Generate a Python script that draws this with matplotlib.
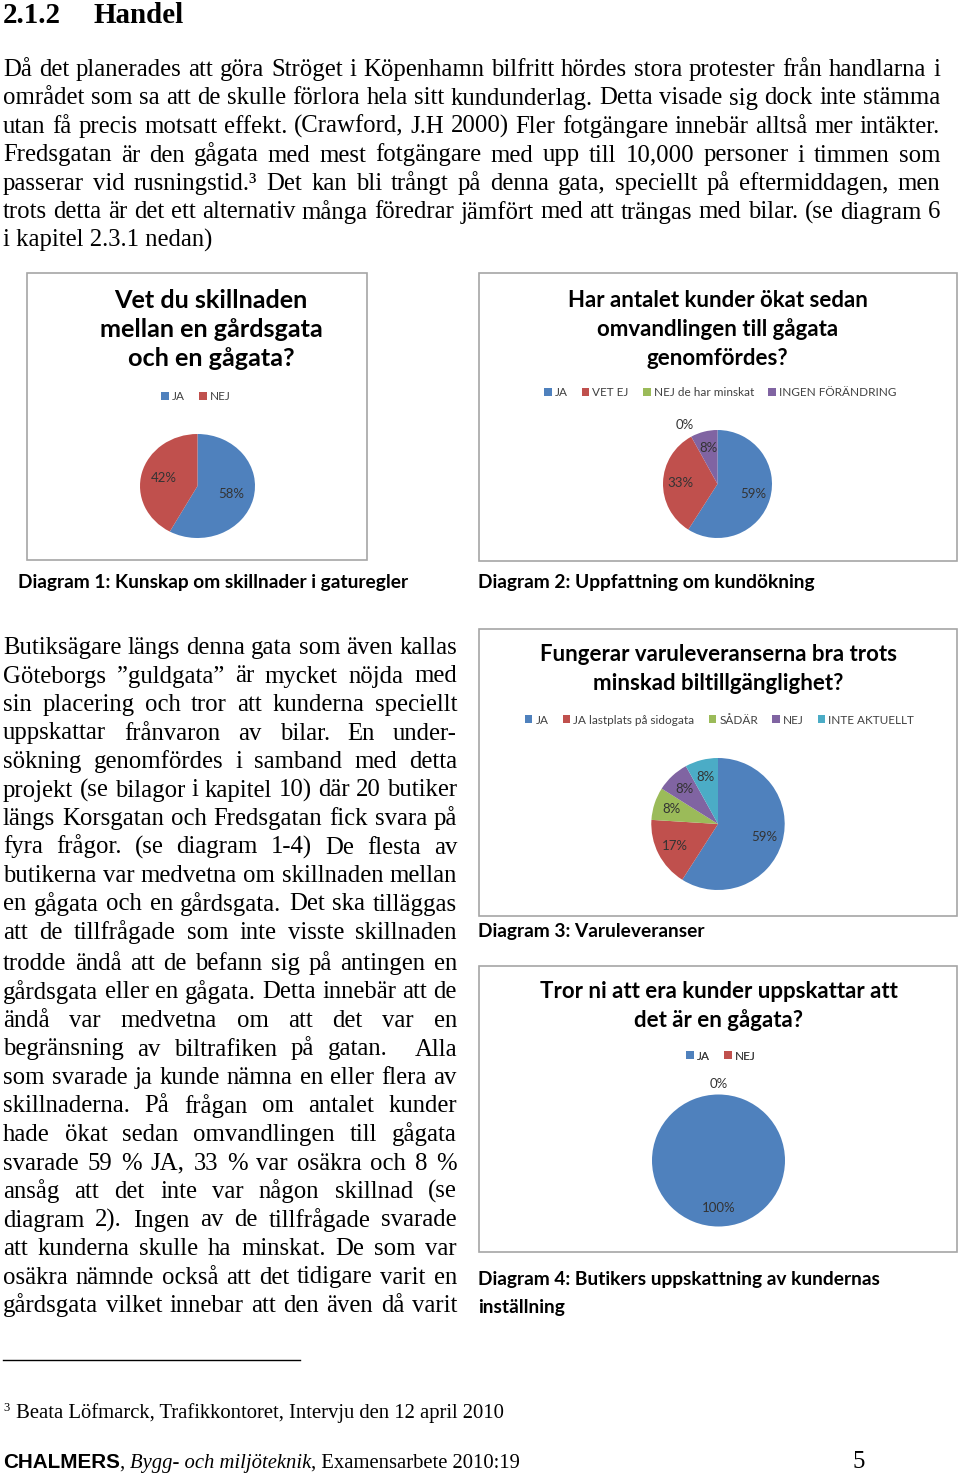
"""Sida 5 ur examensarbetet: text om Handel samt fyra cirkeldiagram från enkäten"""

import numpy as np
import matplotlib
matplotlib.use("Agg")
import matplotlib.pyplot as plt
from matplotlib.patches import Rectangle

W, H = 960, 1476

"""---data: diagram---"""
pie1_title = ["Vet du skillnaden", "mellan en gårdsgata", "och en gågata?"]
pie1_labels = ["JA", "NEJ"]
pie1_values = [58, 42]

pie2_title = ["Har antalet kunder ökat sedan", "omvandlingen till gågata", "genomfördes?"]
pie2_labels = ["JA", "VET EJ", "NEJ de har minskat", "INGEN FÖRÄNDRING"]
pie2_values = [59, 33, 0, 8]

pie3_title = ["Fungerar varuleveranserna bra trots", "minskad biltillgänglighet?"]
pie3_labels = ["JA", "JA lastplats på sidogata", "SÅDÄR", "NEJ", "INTE AKTUELLT"]
pie3_values = [59, 17, 8, 8, 8]

pie4_title = ["Tror ni att era kunder uppskattar att", "det är en gågata?"]
pie4_labels = ["JA", "NEJ"]
pie4_values = [100, 0]

excel_colors = ["#4F81BD", "#C0504D", "#9BBB59", "#8064A2", "#4BACC6"]

"""---data: text---"""
heading_num = "2.1.2"
heading_txt = "Handel"

para1 = [
    "Då det planerades att göra Ströget i Köpenhamn bilfritt hördes stora protester från handlarna i",
    "området som sa att de skulle förlora hela sitt kundunderlag. Detta visade sig dock inte stämma",
    "utan få precis motsatt effekt. (Crawford, J.H 2000) Fler fotgängare innebär alltså mer intäkter.",
    "Fredsgatan är den gågata med mest fotgängare med upp till 10,000 personer i timmen som",
    "passerar vid rusningstid.³ Det kan bli trångt på denna gata, speciellt på eftermiddagen, men",
    "trots detta är det ett alternativ många föredrar jämfört med att trängas med bilar. (se diagram 6",
    "i kapitel 2.3.1 nedan)",
]

para2 = [
    "Butiksägare längs denna gata som även kallas",
    "Göteborgs ”guldgata” är mycket nöjda med",
    "sin placering och tror att kunderna speciellt",
    "uppskattar frånvaron av bilar. En under-",
    "sökning genomfördes i samband med detta",
    "projekt (se bilagor i kapitel 10) där 20 butiker",
    "längs Korsgatan och Fredsgatan fick svara på",
    "fyra frågor. (se diagram 1-4) De flesta av",
    "butikerna var medvetna om skillnaden mellan",
    "en gågata och en gårdsgata. Det ska tilläggas",
    "att de tillfrågade som inte visste skillnaden",
    "trodde ändå att de befann sig på antingen en",
    "gårdsgata eller en gågata. Detta innebär att de",
    "ändå var medvetna om att det var en",
    "begränsning av biltrafiken på gatan.  Alla",
    "som svarade ja kunde nämna en eller flera av",
    "skillnaderna. På frågan om antalet kunder",
    "hade ökat sedan omvandlingen till gågata",
    "svarade 59 % JA, 33 % var osäkra och 8 %",
    "ansåg att det inte var någon skillnad (se",
    "diagram 2). Ingen av de tillfrågade svarade",
    "att kunderna skulle ha minskat. De som var",
    "osäkra nämnde också att det tidigare varit en",
    "gårdsgata vilket innebar att den även då varit",
]

captions = [
    "Diagram 1: Kunskap om skillnader i gaturegler",
    "Diagram 2: Uppfattning om kundökning",
    "Diagram 3: Varuleveranser",
    "Diagram 4: Butikers uppskattning av kundernas",
    "inställning",
]

footnote = "Beata Löfmarck, Trafikkontoret, Intervju den 12 april 2010"

SERIF = "Liberation Serif"
SANS = "Lato"
BODY = 17.8
CAP = 13.8


fig = plt.figure(figsize=(W / 100, H / 100), dpi=100)
page = fig.add_axes([0, 0, 1, 1])
page.set_xlim(0, W)
page.set_ylim(H, 0)
page.axis("off")
renderer = fig.canvas.get_renderer()


def width_of(t):
    if t.get_text() == "":
        return 0.0
    return t.get_window_extent(renderer).width


def put_line(x0, x1, y, line, justify=True, **kw):
    """1 rad text, justerad mellan x0 och x1"""
    if not justify:
        return page.text(x0, y, line, ha="left", va="baseline", **kw)
    words = line.split(" ")
    items = [page.text(x0, y, w, ha="left", va="baseline", **kw) for w in words]
    widths = [width_of(t) for t in items]
    gap = (x1 - x0 - sum(widths)) / (len(words) - 1)
    x = x0
    for t, w in zip(items, widths):
        t.set_x(x)
        x += w + gap


def put_run(x, y, parts):
    """text med blandade typsnitt efter varandra"""
    for s, kw in parts:
        t = page.text(x, y, s, ha="left", va="baseline", **kw)
        x += width_of(t)


def chart_box(x0, y0, x1, y1):
    page.add_patch(Rectangle((x0, y0), x1 - x0, y1 - y0, fill=False,
                             edgecolor="#a6a6a6", linewidth=1.2))


def draw_pie(cx, cy, rx, ry, values, pct_r, zero_r):
    ax = fig.add_axes([(cx - rx) / W, 1 - (cy + ry) / H, 2 * rx / W, 2 * ry / H])
    wedges, _ = ax.pie(values, colors=excel_colors[:len(values)], startangle=90,
                       counterclock=False, wedgeprops=dict(linewidth=0))
    ax.set_aspect("auto")
    ax.set_xlim(-1, 1)
    ax.set_ylim(-1, 1)
    ax.axis("off")
    for w, v in zip(wedges, values):
        ang = np.deg2rad((w.theta1 + w.theta2) / 2)
        r = pct_r if v > 0 else zero_r
        ax.text(r * np.cos(ang), r * np.sin(ang), f"{v}%", ha="center", va="center",
                fontsize=9.5, color="#333333", family=SANS)
    return wedges


def chart_title(cx, y, lines, size=16):
    for i, s in enumerate(lines):
        page.text(cx, y + i * 29, s, ha="center", va="baseline", fontsize=size,
                  fontweight="bold", family=SANS, color="black")


def chart_legend(cx, cy, wedges, labels):
    leg = page.legend(wedges, labels, loc="center", bbox_to_anchor=(cx, cy),
                      bbox_transform=page.transData, ncol=len(labels), frameon=False,
                      handlelength=0.65, handleheight=0.65, handletextpad=0.25,
                      columnspacing=1.2, borderpad=0, prop=dict(family=SANS, size=8.5),
                      labelcolor="#404040")
    page.add_artist(leg)


"""---rubrik och första stycket---"""
page.text(3, 23, heading_num, ha="left", va="baseline", fontsize=20.9,
          fontweight="bold", family=SERIF)
page.text(93, 23, heading_txt, ha="left", va="baseline", fontsize=20.9,
          fontweight="bold", family=SERIF)

for i, line in enumerate(para1):
    put_line(3, 940, 76 + i * 28.5, line, justify=i < len(para1) - 1,
             fontsize=BODY, family=SERIF)

"""---diagram 1 och 2---"""
chart_box(27, 273, 367, 560)
chart_title(211, 308, pie1_title, size=18.2)
w1 = draw_pie(197.5, 486, 57.5, 52, pie1_values, 0.6, 1.2)
chart_legend(196, 397, w1, pie1_labels)

chart_box(479, 273, 957, 561)
chart_title(717.5, 307, pie2_title)
w2 = draw_pie(717.5, 484, 54.5, 54, pie2_values, 0.68, 1.24)
chart_legend(720, 393, w2, pie2_labels)

page.text(18, 588, captions[0], ha="left", va="baseline", fontsize=CAP,
          fontweight="bold", family=SANS)
page.text(478, 588, captions[1], ha="left", va="baseline", fontsize=CAP,
          fontweight="bold", family=SANS)

"""---andra stycket (vänster spalt)---"""
for i, line in enumerate(para2):
    y = 654 + i * 28.5 + (2.5 if i > 10 else 0)
    put_line(3, 457, y, line, fontsize=BODY, family=SERIF)

"""---diagram 3 och 4---"""
chart_box(479, 629, 957, 916)
chart_title(718, 661, pie3_title)
w3 = draw_pie(718, 824, 66.7, 66, pie3_values, 0.73, 1.2)
chart_legend(719.5, 720, w3, pie3_labels)
page.text(478, 937, captions[2], ha="left", va="baseline", fontsize=CAP,
          fontweight="bold", family=SANS)

chart_box(479, 966, 957, 1252)
chart_title(718.5, 998, pie4_title)
w4 = draw_pie(718.5, 1160.5, 66.5, 66, pie4_values, 0.72, 1.16)
chart_legend(721, 1056, w4, pie4_labels)
page.text(478, 1285, captions[3], ha="left", va="baseline", fontsize=CAP,
          fontweight="bold", family=SANS)
page.text(478, 1313, captions[4], ha="left", va="baseline", fontsize=CAP,
          fontweight="bold", family=SANS)

"""---fotnot och sidfot---"""
page.plot([3, 300], [1360, 1360], color="black", linewidth=1)
page.text(3, 1411, "3", ha="left", va="baseline", fontsize=9, family=SERIF)
page.text(16, 1418, footnote, ha="left", va="baseline", fontsize=14.9, family=SERIF)

put_run(3, 1468, [
    ("CHALMERS", dict(fontsize=14.9, fontweight="bold", family="Liberation Sans")),
    (", ", dict(fontsize=14.9, family=SERIF)),
    ("Bygg- och miljöteknik", dict(fontsize=14.9, style="italic", family=SERIF)),
    (", Examensarbete 2010:19", dict(fontsize=14.9, family=SERIF)),
])
page.text(852, 1468, "5", ha="left", va="baseline", fontsize=BODY, family=SERIF)

fig.savefig("out.png", dpi=100)
